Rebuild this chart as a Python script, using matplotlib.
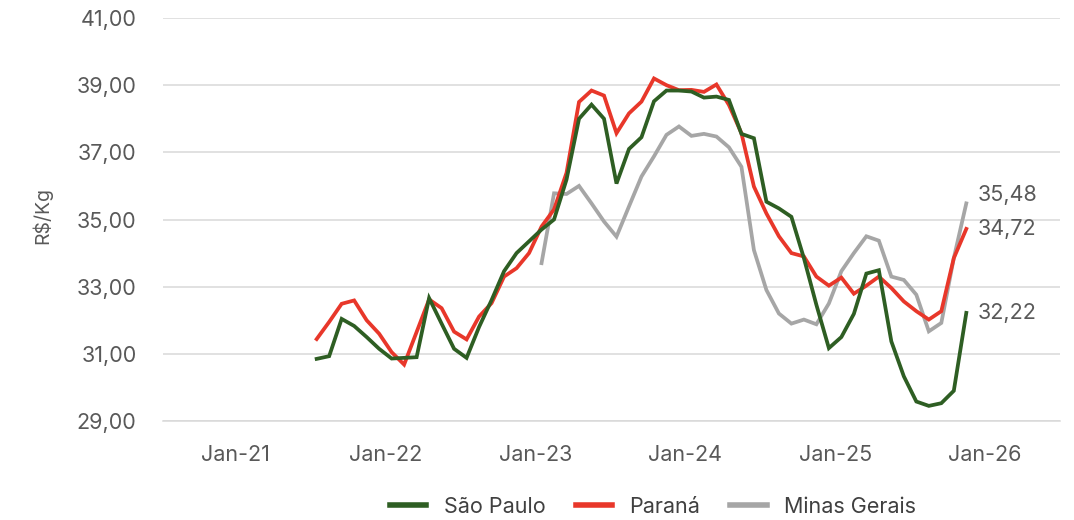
import matplotlib
matplotlib.use("Agg")
import matplotlib.pyplot as plt
import numpy as np
from matplotlib.lines import Line2D

plt.rcParams['font.family'] = ['Inter', 'DejaVu Sans']

# ---- data (monthly, R$/Kg) ----
series_names = ["São Paulo", "Paraná", "Minas Gerais"]
start_month_sp_pr = 6      # Jul-21 (months since Jan-21)
start_month_mg = 24        # Jan-23

sao_paulo = [30.85, 30.93, 32.04, 31.83, 31.50, 31.15, 30.86, 30.88, 30.90, 32.66,
             31.90, 31.15, 30.88, 31.80, 32.60, 33.46, 34.00, 34.35, 34.70, 35.00,
             36.19, 38.00, 38.42, 38.00, 36.07, 37.10, 37.45, 38.52, 38.84, 38.84,
             38.81, 38.63, 38.66, 38.56, 37.55, 37.42, 35.53, 35.33, 35.08, 33.85,
             32.46, 31.17, 31.50, 32.19, 33.39, 33.49, 31.37, 30.33, 29.58, 29.45,
             29.53, 29.90, 32.22]
parana = [31.44, 31.95, 32.49, 32.59, 32.00, 31.60, 31.05, 30.68, 31.65, 32.62,
          32.36, 31.66, 31.43, 32.11, 32.51, 33.30, 33.55, 34.00, 34.79, 35.30,
          36.39, 38.50, 38.84, 38.69, 37.57, 38.16, 38.51, 39.20, 39.00, 38.85,
          38.86, 38.80, 39.02, 38.41, 37.57, 35.98, 35.18, 34.50, 34.00, 33.90,
          33.30, 33.03, 33.27, 32.79, 33.03, 33.30, 32.96, 32.56, 32.27, 32.02,
          32.27, 33.85, 34.72]
minas_gerais = [33.70, 35.78, 35.76, 36.00, 35.48, 34.94, 34.49, 35.39, 36.28, 36.88,
                37.52, 37.77, 37.49, 37.55, 37.47, 37.15, 36.57, 34.09, 32.90, 32.20,
                31.90, 32.02, 31.88, 32.50, 33.46, 34.00, 34.50, 34.37, 33.30, 33.20,
                32.76, 31.67, 31.92, 33.85, 35.48]

x_tick_labels = ["Jan-21", "Jan-22", "Jan-23", "Jan-24", "Jan-25", "Jan-26"]
y_ticks = [29, 31, 33, 35, 37, 39, 41]
colors = ["#2E5E23", "#E8372A", "#A6A6A6"]
text_color = "#595959"
grid_color = "#D9D9D9"

# ---- figure ----
fig = plt.figure(figsize=(10.74, 5.2), dpi=100)
ax = fig.add_axes([163/1074, 1-421/520, (1060-163)/1074, (421-18)/520])

x_sp = np.arange(len(sao_paulo)) + start_month_sp_pr + 0.5
x_pr = np.arange(len(parana)) + start_month_sp_pr + 0.5
x_mg = np.arange(len(minas_gerais)) + start_month_mg + 0.5

lw = 2.7
ax.plot(x_sp, sao_paulo, color=colors[0], lw=lw, solid_joinstyle='miter', zorder=4)
ax.plot(x_pr, parana, color=colors[1], lw=lw, solid_joinstyle='miter', zorder=3)
ax.plot(x_mg, minas_gerais, color=colors[2], lw=lw, solid_joinstyle='miter', zorder=2)

ax.set_xlim(-5.8, 66)
ax.set_ylim(29, 41)
ax.set_xticks(np.arange(len(x_tick_labels)) * 12)
ax.set_xticklabels(x_tick_labels)
ax.set_yticks(y_ticks)
ax.set_yticklabels([f"{v:.2f}".replace(".", ",") for v in y_ticks])

ax.grid(axis='y', color=grid_color, lw=1.1)
ax.set_axisbelow(True)
for s in ["top", "right", "left"]:
    ax.spines[s].set_visible(False)
ax.spines["bottom"].set_color(grid_color)
ax.spines["bottom"].set_linewidth(1.1)
ax.tick_params(axis='both', length=0, labelsize=15.5, colors=text_color)
ax.tick_params(axis='y', pad=19)
ax.tick_params(axis='x', pad=17)

ax.set_ylabel("R$/Kg", fontsize=14, color=text_color)
ax.yaxis.set_label_coords(-0.124, 0.51)

# end labels
end_series = [(x_mg, minas_gerais, 6), (x_pr, parana, 0), (x_sp, sao_paulo, 0)]
for xs, ys, dy in end_series:
    ax.annotate(f"{ys[-1]:.2f}".replace(".", ","), xy=(xs[-1], ys[-1]),
                xytext=(8, dy), textcoords='offset points', va='center', ha='left',
                fontsize=15.5, color=text_color, annotation_clip=False)

handles = [Line2D([0], [0], color=c, lw=4) for c in colors]
fig.legend(handles, series_names, loc='center', bbox_to_anchor=(653/1074, 1-507/520),
           ncol=3, frameon=False, fontsize=15.5, handlelength=1.7, handletextpad=0.8,
           columnspacing=1.4, labelcolor='#404040')

fig.savefig("out.png", dpi=100)
